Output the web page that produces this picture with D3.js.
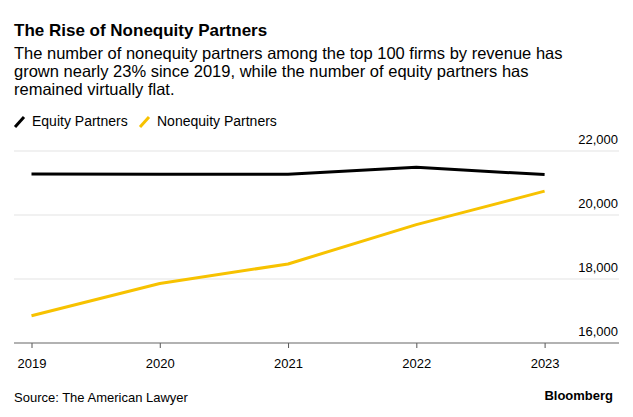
<!DOCTYPE html>
<html><head><meta charset="utf-8">
<script src="https://cdn.jsdelivr.net/npm/d3@7"></script>
<style>
html,body{margin:0;padding:0;background:#fff;}
svg text{font-family:"Liberation Sans",Arial,sans-serif;}
</style></head>
<body><svg id="c" width="633" height="417"></svg>
<script>
const years = [2019, 2020, 2021, 2022, 2023];
const equity = [21280, 21270, 21275, 21490, 21262];
const nonequity = [16850, 17860, 18470, 19700, 20745];
const yTicks = [16000, 18000, 20000, 22000];
const seriesNames = ["Equity Partners", "Nonequity Partners"];
const colors = ["#000000", "#f7c200"];

const svg = d3.select("#c");
const x = d3.scaleLinear().domain([2019, 2023]).range([31.5, 544.6]);
const y = d3.scaleLinear().domain([16000, 22000]).range([343, 151]);
const left = 14, right = 619;

// title & subtitle
svg.append("text").attr("x", 14).attr("y", 36).attr("font-size", 17).attr("font-weight", "bold").attr("fill", "#000").text("The Rise of Nonequity Partners");
const sub = ["The number of nonequity partners among the top 100 firms by revenue has",
  "grown nearly 23% since 2019, while the number of equity partners has",
  "remained virtually flat."];
sub.forEach((s, i) => svg.append("text").attr("x", 14).attr("y", 58.5 + i * 18).attr("font-size", 16.5).attr("fill", "#000").text(s));

// legend
const leg = svg.append("g");
const legX = [14, 139];
const legTextX = [32, 157];
seriesNames.forEach((n, i) => {
  leg.append("line").attr("x1", legX[i] + 1).attr("y1", 127).attr("x2", legX[i] + 10).attr("y2", 117)
    .attr("stroke", colors[i]).attr("stroke-width", 3);
  leg.append("text").attr("x", legTextX[i]).attr("y", 126).attr("font-size", 14).attr("fill", "#000").text(n);
});

// gridlines
svg.append("g").selectAll("line").data(yTicks.filter(d => d !== 16000)).join("line")
  .attr("x1", left).attr("x2", right).attr("y1", d => y(d)).attr("y2", d => y(d))
  .attr("stroke", "#e3e3e3").attr("stroke-width", 1.2);
svg.append("g").selectAll("text").data(yTicks).join("text")
  .attr("x", right - 1).attr("y", d => y(d) - 7).attr("text-anchor", "end")
  .attr("font-size", 13).attr("fill", "#000").text(d3.format(","));

// x axis
const xAxis = d3.axisBottom(x).tickValues(years).tickFormat(d3.format("d")).tickSize(5).tickSizeOuter(0);
const gx = svg.append("g").attr("transform", `translate(0,${y(16000)})`).call(xAxis);
gx.select(".domain").remove();
gx.append("line").attr("x1", left).attr("x2", right).attr("y1", 0).attr("y2", 0).attr("stroke", "#666").attr("stroke-width", 1.2);
gx.selectAll(".tick line").attr("stroke", "#555");
gx.selectAll(".tick text").attr("font-size", 13).attr("fill", "#000").attr("font-family", "Liberation Sans, Arial, sans-serif").attr("dy", null).attr("y", 25);

// lines
const line = d3.line().x((d, i) => x(years[i])).y(d => y(d));
[equity, nonequity].forEach((s, i) => {
  svg.append("path").attr("d", line(s)).attr("fill", "none").attr("stroke", colors[i]).attr("stroke-width", 3).attr("stroke-linejoin", "round");
});

// footer
svg.append("text").attr("x", 14).attr("y", 402).attr("font-size", 13).attr("fill", "#000").text("Source: The American Lawyer");
svg.append("text").attr("x", 613).attr("y", 400).attr("text-anchor", "end").attr("font-size", 13).attr("font-weight", "bold").attr("fill", "#000").text("Bloomberg");
</script></body></html>
